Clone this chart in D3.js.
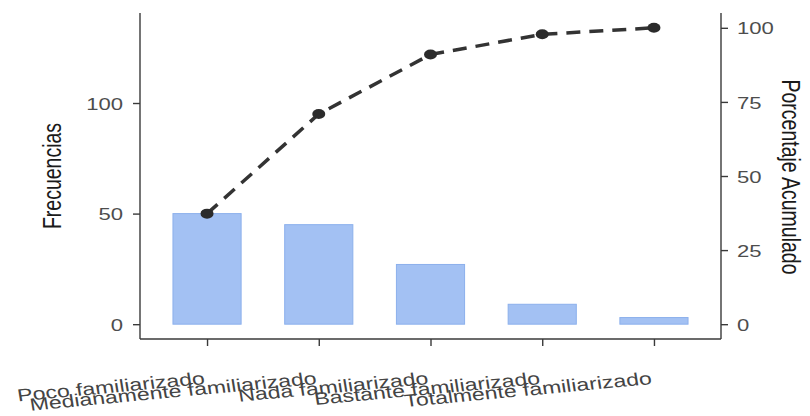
<!DOCTYPE html>
<html>
<head>
<meta charset="utf-8">
<script src="https://cdn.jsdelivr.net/npm/d3@7"></script>
<style>
  html, body { margin: 0; padding: 0; background: #fff; }
  svg { display: block; }
  text { font-family: "Liberation Sans", Arial, Helvetica, sans-serif; }
</style>
</head>
<body>
<svg id="chart" width="810" height="416"></svg>
<script>
// ---- data ----
const categories = ["Poco familiarizado", "Medianamente familiarizado", "Nada familiarizado", "Bastante familiarizado", "Totalmente familiarizado"];
const frecuencias = [50, 45, 27, 9, 3];
const porcentajeAcumulado = [37.3, 70.9, 91.0, 97.8, 100];
const leftTicks = [0, 50, 100];
const rightTicks = [0, 25, 50, 75, 100];
const total = 134; // frequency that corresponds to 100 %

// ---- layout ----
const svg = d3.select("#chart");
const L = 140, R = 721, T = 13, B = 339;
const SX = 1.3; // horizontal text stretch seen in the reference

const x = d3.scalePoint().domain(categories).range([L, R]).padding(0.6);
const yMax = total * 1.05, yMin = -total * 0.05;
const y = d3.scaleLinear().domain([yMin, yMax]).range([B, T]);
const yR = d3.scaleLinear().domain([yMin * 100 / total, yMax * 100 / total]).range([B, T]);

const barW = x.step() * 0.61;

// bars
svg.append("g").selectAll("rect").data(categories).join("rect")
  .attr("x", (d) => x(d) - barW / 2)
  .attr("y", (d, i) => y(frecuencias[i]))
  .attr("width", barW)
  .attr("height", (d, i) => y(0) - y(frecuencias[i]))
  .attr("fill", "#a3c1f3")
  .attr("stroke", "#8cb0ec")
  .attr("stroke-width", 1);

// cumulative line
const line = d3.line().x((d, i) => x(categories[i])).y((d) => yR(d));
svg.append("path")
  .datum(porcentajeAcumulado)
  .attr("d", line)
  .attr("fill", "none")
  .attr("stroke", "#333333")
  .attr("stroke-width", 3.5)
  .attr("stroke-dasharray", "14,9");

svg.append("g").selectAll("ellipse").data(porcentajeAcumulado).join("ellipse")
  .attr("cx", (d, i) => x(categories[i]))
  .attr("cy", (d) => yR(d))
  .attr("rx", 6.5)
  .attr("ry", 5)
  .attr("fill", "#2b2b2b");

// axes
function styleAxis(g) {
  g.select(".domain").attr("stroke", "#3a3a3a").attr("stroke-width", 1.4);
  g.selectAll(".tick line").attr("stroke", "#3a3a3a").attr("stroke-width", 1.4);
}

const axL = svg.append("g").attr("transform", `translate(${L},0)`)
  .call(d3.axisLeft(y).tickValues(leftTicks).tickSize(7).tickSizeOuter(0));
axL.select(".domain").attr("d", `M0,${T}V${B}`);
styleAxis(axL);
axL.selectAll(".tick text")
  .attr("x", 0).attr("dy", "0.36em")
  .attr("transform", `translate(-17,0) scale(${SX},1)`)
  .attr("font-size", 17).attr("fill", "#4d4d4d").attr("text-anchor", "end");

const axR = svg.append("g").attr("transform", `translate(${R},0)`)
  .call(d3.axisRight(yR).tickValues(rightTicks).tickSize(7).tickSizeOuter(0));
axR.select(".domain").attr("d", `M0,${T}V${B}`);
styleAxis(axR);
axR.selectAll(".tick text")
  .attr("x", 0).attr("dy", "0.36em")
  .attr("transform", `translate(16,0) scale(${SX},1)`)
  .attr("font-size", 17).attr("fill", "#4d4d4d").attr("text-anchor", "start");

const axB = svg.append("g").attr("transform", `translate(0,${B})`)
  .call(d3.axisBottom(x).tickSize(7).tickSizeOuter(0));
axB.select(".domain").attr("d", `M${L},0H${R}`);
styleAxis(axB);
axB.selectAll(".tick text")
  .attr("x", 0).attr("y", 0).attr("dy", 0)
  .attr("transform", `translate(-2,${384 - B}) scale(1.32,1) rotate(-7)`)
  .attr("font-size", 17.5).attr("fill", "#444444").attr("text-anchor", "end");

// axis titles
svg.append("text")
  .attr("transform", `translate(52,176) scale(${SX},1) rotate(-90)`)
  .attr("text-anchor", "middle").attr("dy", "0.36em")
  .attr("font-size", 19.5).attr("fill", "#1a1a1a")
  .text("Frecuencias");

svg.append("text")
  .attr("transform", `translate(791,177) scale(${SX},1) rotate(90)`)
  .attr("text-anchor", "middle").attr("dy", "0.36em")
  .attr("font-size", 19.5).attr("fill", "#1a1a1a")
  .text("Porcentaje Acumulado");
</script>
</body>
</html>
